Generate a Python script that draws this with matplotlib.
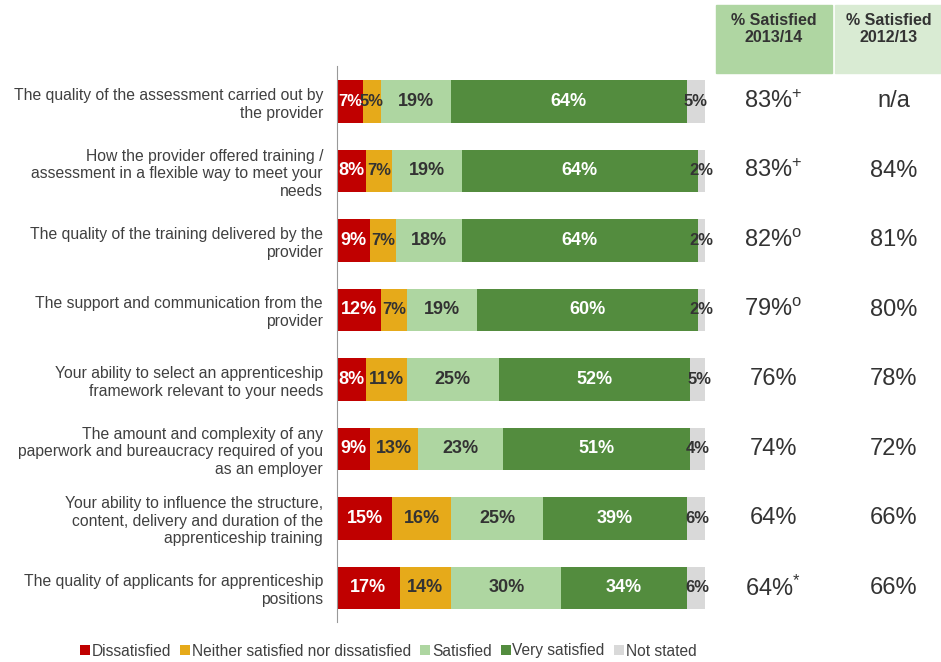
import numpy as np
import matplotlib
matplotlib.use("Agg")
from matplotlib import pyplot as plt
from matplotlib.patches import Rectangle

plt.rcParams['font.family'] = ['Liberation Sans', 'DejaVu Sans']
plt.rcParams['mathtext.fontset'] = 'custom'
plt.rcParams['mathtext.rm'] = 'Liberation Sans'
plt.rcParams['mathtext.it'] = 'Liberation Sans'
plt.rcParams['mathtext.bf'] = 'Liberation Sans:bold'

# data
questions = [
    "The quality of the assessment carried out by\nthe provider",
    "How the provider offered training /\nassessment in a flexible way to meet your\nneeds",
    "The quality of the training delivered by the\nprovider",
    "The support and communication from the\nprovider",
    "Your ability to select an apprenticeship\nframework relevant to your needs",
    "The amount and complexity of any\npaperwork and bureaucracy required of you\nas an employer",
    "Your ability to influence the structure,\ncontent, delivery and duration of the\napprenticeship training",
    "The quality of applicants for apprenticeship\npositions",
]
dissatisfied = [7, 8, 9, 12, 8, 9, 15, 17]
neither = [5, 7, 7, 7, 11, 13, 16, 14]
satisfied = [19, 19, 18, 19, 25, 23, 25, 30]
very_satisfied = [64, 64, 64, 60, 52, 51, 39, 34]
not_stated = [5, 2, 2, 2, 5, 4, 6, 6]

sat_2013 = ["83%", "83%", "82%", "79%", "76%", "74%", "64%", "64%"]
sat_2013_mark = ["+", "+", "o", "o", "", "", "", "*"]
sat_2012 = ["n/a", "84%", "81%", "80%", "78%", "72%", "66%", "66%"]

series = [dissatisfied, neither, satisfied, very_satisfied, not_stated]
names = ["Dissatisfied", "Neither satisfied nor dissatisfied", "Satisfied",
         "Very satisfied", "Not stated"]
colors = ["#c00000", "#e6aa1a", "#aed6a1", "#538c3e", "#d9d9d9"]
txt_colors = ["white", "#333333", "#333333", "white", "#333333"]

fig = plt.figure(figsize=(9.41, 6.62), dpi=100)
ax = fig.add_axes([337/941, 1-622/662, 368/941, 556/662])

y = np.arange(len(questions))
left = np.zeros(len(questions))
for vals, name, c, tc in zip(series, names, colors, txt_colors):
    vals = np.array(vals, dtype=float)
    ax.barh(y, vals, left=left, height=0.61, color=c, label=name, edgecolor='none')
    for yi, l, v in zip(y, left, vals):
        fs = 13 if v >= 8 else 12
        ax.text(l + v/2, yi, "%d%%" % v, ha='center', va='center',
                color=tc, fontsize=fs, fontweight='bold')
    left += vals

ax.set_xlim(0, 100)
ax.set_ylim(7.49, -0.51)
ax.set_yticks(y)
ax.set_yticklabels(questions, fontsize=11.3, color='#404040', linespacing=1.22)
ax.tick_params(axis='y', length=0, pad=10)
ax.set_xticks([])
for s in ['top', 'right', 'bottom']:
    ax.spines[s].set_visible(False)
ax.spines['left'].set_color('#999999')

# satisfaction columns
for yi, v, m, v2 in zip(y, sat_2013, sat_2013_mark, sat_2012):
    if m == "o":
        s = v + r"$^{\mathrm{o}}$"
    elif m:
        s = v + "$^{" + m + "}$"
    else:
        s = v
    ax.text(118.5, yi, s, ha='center', va='center', fontsize=17,
            color='#333333', clip_on=False)
    ax.text(151.3, yi, v2, ha='center', va='center', fontsize=17,
            color='#333333', clip_on=False)

# header boxes
fig.patches.append(Rectangle((716/941, 1-73/662), 116/941, 68/662,
                             transform=fig.transFigure, color='#afd6a2'))
fig.patches.append(Rectangle((835/941, 1-73/662), 106/941, 68/662,
                             transform=fig.transFigure, color='#d9ebd3'))
fig.text(774/941, 1-29/662, "% Satisfied\n2013/14", ha='center', va='center',
         fontsize=11.5, fontweight='bold', color='#333333', linespacing=1.15)
fig.text(889/941, 1-29/662, "% Satisfied\n2012/13", ha='center', va='center',
         fontsize=11.5, fontweight='bold', color='#333333', linespacing=1.15)

fig.legend(loc='center', bbox_to_anchor=(388/941, 1-651/662), ncol=5,
           frameon=False, fontsize=11.2, handlelength=0.65, handleheight=0.65,
           handletextpad=0.1, columnspacing=0.6, labelcolor='#404040')

fig.savefig("out.png", dpi=100)
